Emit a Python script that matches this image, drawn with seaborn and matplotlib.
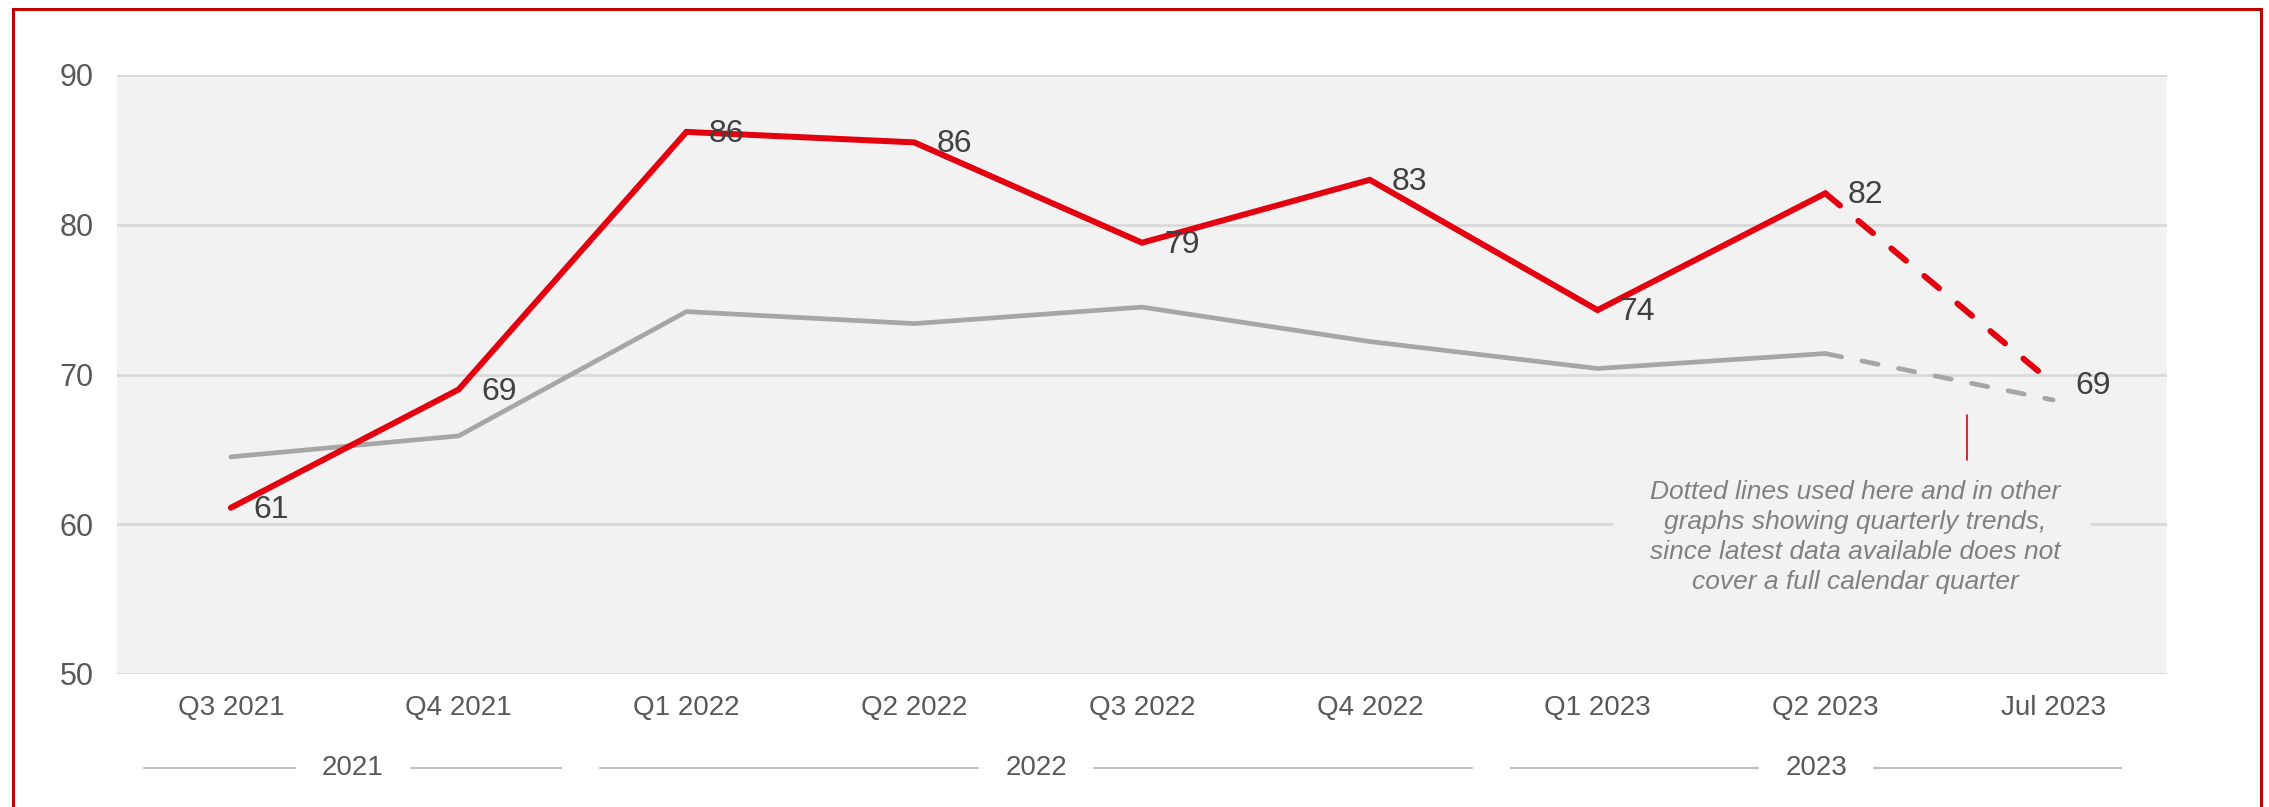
import numpy as np
import pandas as pd
import matplotlib
matplotlib.use("Agg")
import matplotlib.pyplot as plt
import matplotlib.transforms as mtransforms
from matplotlib.patches import Rectangle
import seaborn as sns

# ---------------- data ----------------
categories = ["Q3 2021", "Q4 2021", "Q1 2022", "Q2 2022", "Q3 2022",
              "Q4 2022", "Q1 2023", "Q2 2023", "Jul 2023"]
red_values = [61.1, 69.0, 86.2, 85.5, 78.8, 83.0, 74.3, 82.1, 69.4]
red_labels = ["61", "69", "86", "86", "79", "83", "74", "82", "69"]
grey_values = [64.5, 65.9, 74.2, 73.4, 74.5, 72.2, 70.4, 71.4, 68.3]
years = ["2021", "2022", "2023"]
year_counts = [2, 4, 3]
y_ticks = [50, 60, 70, 80, 90]
note_text = ("Dotted lines used here and in other\n"
             "graphs showing quarterly trends,\n"
             "since latest data available does not\n"
             "cover a full calendar quarter")

# ---------------- style ----------------
sns.set_style("white")
plt.rcParams["font.family"] = ["Liberation Sans", "DejaVu Sans"]

RED = "#E3000F"
GREY = "#A6A6A6"
BG = "#F2F2F2"
GRID = "#D9D9D9"
TXT = "#595959"
LBL = "#404040"

fig = plt.figure(figsize=(22.69, 8.07), dpi=100)
ax = fig.add_axes([117 / 2269, 1 - 674 / 807, (2167 - 117) / 2269, (674 - 75) / 807])
ax.set_facecolor(BG)

n = len(categories)
xpos = np.arange(n)
df = pd.DataFrame({"x": xpos, "red": red_values, "grey": grey_values})
solid = df.iloc[: n - 1]
dashed = df.iloc[n - 2:]

RED_LW = 4.3
GREY_LW = 3.4

# solid parts
sns.lineplot(data=solid, x="x", y="grey", ax=ax, color=GREY, linewidth=GREY_LW,
             zorder=3, solid_capstyle="round", solid_joinstyle="miter")
sns.lineplot(data=solid, x="x", y="red", ax=ax, color=RED, linewidth=RED_LW,
             zorder=4, solid_capstyle="round", solid_joinstyle="miter")
# dashed parts
sns.lineplot(data=dashed, x="x", y="grey", ax=ax, color=GREY, linewidth=GREY_LW,
             zorder=3)
sns.lineplot(data=dashed, x="x", y="red", ax=ax, color=RED, linewidth=RED_LW,
             zorder=4)
ax.lines[2].set_linestyle((0, (3.5, 4.4)))
ax.lines[3].set_linestyle((0, (3.2, 4.0)))
for ln in ax.lines[2:4]:
    ln.set_dash_capstyle("round")

# data labels
for xi, yi, lab in zip(xpos, red_values, red_labels):
    ax.annotate(lab, (xi, yi), xytext=(16, -1.5), textcoords="offset points",
                ha="left", va="center", fontsize=23, color=LBL, zorder=6)

# axes formatting
ax.set_xlim(-0.5, n - 0.5)
ax.set_ylim(50, 90)
ax.set_yticks(y_ticks)
ax.set_xticks(xpos)
ax.set_xticklabels(categories)
ax.set_xlabel("")
ax.set_ylabel("")
ax.yaxis.grid(True, color=GRID, linewidth=2.0, zorder=0)
ax.set_axisbelow(True)
for s in ax.spines.values():
    s.set_visible(False)
ax.tick_params(axis="y", labelsize=22, colors=TXT, length=0, pad=17)
ax.tick_params(axis="x", labelsize=20, colors=TXT, length=0, pad=15)

# annotation note
ax.add_patch(Rectangle((6.07, 56.6), 8.16 - 6.07, 5.2, facecolor=BG,
                       edgecolor="none", zorder=1.5))
ax.plot([7.62, 7.62], [64.3, 67.3], color=RED, linewidth=1.2, zorder=5)
ax.text(7.13, 59.15, note_text, ha="center", va="center", fontsize=19,
        style="italic", color="#808080", linespacing=1.33, zorder=6)

# year group labels
trans = mtransforms.blended_transform_factory(ax.transData, ax.transAxes)
yy = -0.157
start = -0.5
for yr, cnt in zip(years, year_counts):
    end = start + cnt
    a = start + 0.12
    b = end - (0.2 if end >= n - 0.5 else 0.05)
    c = (a + b) / 2
    ax.text(c, yy, yr, transform=trans, ha="center", va="center",
            fontsize=20, color=TXT, clip_on=False)
    ax.plot([a, c - 0.255], [yy, yy], transform=trans, color="#BFBFBF",
            linewidth=1.5, clip_on=False)
    ax.plot([c + 0.255, b], [yy, yy], transform=trans, color="#BFBFBF",
            linewidth=1.5, clip_on=False)
    start = end

# outer frame
fig.patches.append(Rectangle((13 / 2269, -0.05), (2261 - 13) / 2269, 1.05 - 9 / 807,
                             transform=fig.transFigure, fill=False,
                             edgecolor="#C00000", linewidth=2.2, zorder=10))

fig.savefig("out.png", dpi=100, facecolor="white")
